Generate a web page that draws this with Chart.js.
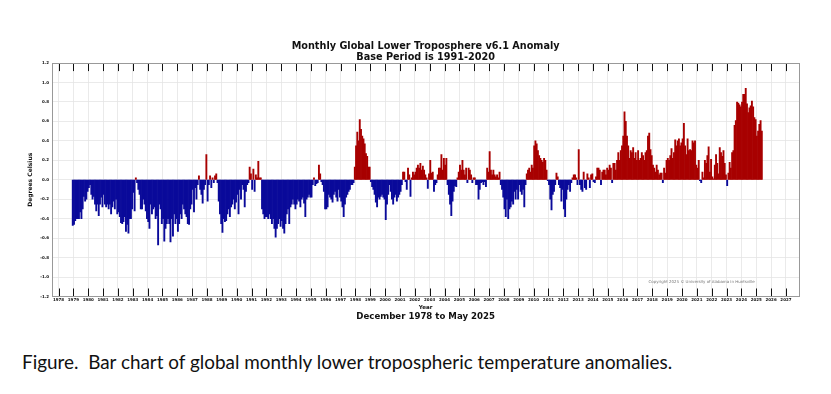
<!DOCTYPE html>
<html>
<head>
<meta charset="utf-8">
<script src="https://cdn.jsdelivr.net/npm/chart.js@4.4.0/dist/chart.umd.min.js"></script>
<style>
  html, body { margin: 0; padding: 0; background: #fff; }
  #wrap { position: relative; width: 831px; height: 394px; overflow: hidden; background: #fff; }
  #chart { position: absolute; left: 0; top: 0; }
  #caption { position: absolute; left: 22px; top: 351px; font-family: Lato, 'Open Sans', sans-serif; font-size: 18.9px; line-height: 22px; color: #111; white-space: pre; }
</style>
</head>
<body>
<div id="wrap">
  <canvas id="chart" width="831" height="330"></canvas>
  <div id="caption">Figure.  Bar chart of global monthly lower tropospheric temperature anomalies.</div>
</div>
<script>
// first bar is December 1978, one value per month after that
const startYear = 1978;
const startMonth = 12;

// monthly anomalies, deg C
const anomalies = [
  -0.47,
  -0.46, -0.42, -0.40, -0.40, -0.40, -0.33, -0.40, -0.30, -0.17, -0.22, -0.20, -0.12, // 1979
  -0.08, -0.05, -0.15, -0.20, -0.17, -0.25, -0.32, -0.25, -0.37, -0.25, -0.18, -0.28, // 1980
  -0.15, -0.25, -0.28, -0.25, -0.30, -0.25, -0.35, -0.28, -0.22, -0.30, -0.20, -0.35, // 1981
  -0.33, -0.38, -0.44, -0.45, -0.43, -0.38, -0.53, -0.46, -0.55, -0.40, -0.40, -0.30, // 1982
  -0.13, -0.32, 0.02, -0.03, -0.10, -0.15, -0.30, -0.30, -0.20, -0.25, -0.32, -0.40,  // 1983
  -0.43, -0.50, -0.25, -0.35, -0.30, -0.28, -0.40, -0.37, -0.67, -0.25, -0.30, -0.45, // 1984
  -0.40, -0.63, -0.50, -0.45, -0.40, -0.45, -0.64, -0.40, -0.58, -0.35, -0.45, -0.40, // 1985
  -0.53, -0.45, -0.35, -0.40, -0.25, -0.30, -0.35, -0.38, -0.45, -0.46, -0.30, -0.25, // 1986
  -0.10, -0.33, -0.08, -0.20, -0.05, 0.04, -0.10, -0.15, -0.24, -0.10, -0.05, 0.26,   // 1987
  -0.22, -0.05, 0.04, -0.08, 0.02, -0.03, 0.04, 0.06, -0.03, -0.22, -0.35, -0.45,     // 1988
  -0.54, -0.40, -0.43, -0.42, -0.35, -0.30, -0.38, -0.28, -0.25, -0.20, -0.30, -0.23, // 1989
  -0.15, -0.35, -0.10, -0.20, -0.05, -0.10, -0.28, -0.12, -0.05, -0.03, 0.13, 0.06,   // 1990
  -0.10, 0.11, -0.12, 0.05, 0.02, 0.19, 0.02, 0.02, -0.30, -0.35, -0.40, -0.38,       // 1991
  -0.38, -0.40, -0.35, -0.40, -0.45, -0.40, -0.50, -0.59, -0.50, -0.45, -0.40, -0.48, // 1992
  -0.42, -0.50, -0.55, -0.45, -0.35, -0.30, -0.45, -0.28, -0.25, -0.20, -0.25, -0.30, // 1993
  -0.25, -0.20, -0.22, -0.28, -0.20, -0.18, -0.24, -0.38, -0.20, -0.18, -0.15, -0.18, // 1994
  -0.18, -0.05, 0.02, -0.06, -0.04, -0.03, 0.15, 0.06, -0.02, -0.05, -0.12, -0.30,    // 1995
  -0.30, -0.28, -0.15, -0.18, -0.20, -0.23, -0.15, -0.12, -0.18, -0.22, -0.10, -0.18, // 1996
  -0.22, -0.28, -0.38, -0.25, -0.18, -0.15, -0.12, -0.10, -0.05, -0.05, -0.03, 0.13,  // 1997
  0.35, 0.49, 0.40, 0.62, 0.52, 0.45, 0.42, 0.37, 0.27, 0.24, 0.13, 0.13,             // 1998
  -0.02, -0.07, -0.10, -0.15, -0.23, -0.28, -0.18, -0.20, -0.17, -0.15, -0.18, -0.20, // 1999
  -0.41, -0.25, -0.15, -0.05, -0.12, -0.20, -0.25, -0.18, -0.15, -0.22, -0.18, -0.15, // 2000
  -0.12, -0.05, 0.08, 0.08, -0.02, -0.10, 0.12, 0.05, -0.17, 0.02, 0.08, 0.05,        // 2001
  0.08, 0.12, 0.15, 0.12, 0.17, 0.10, 0.14, 0.10, 0.05, 0.02, -0.09, 0.06,            // 2002
  0.20, 0.07, 0.08, -0.12, -0.05, -0.03, 0.05, 0.12, 0.12, 0.26, 0.10, 0.22,          // 2003
  0.15, 0.22, -0.05, -0.15, -0.25, -0.37, -0.22, -0.12, -0.06, -0.07, 0.02, 0.08,     // 2004
  0.15, 0.10, 0.20, 0.10, 0.05, 0.12, -0.03, 0.12, 0.10, 0.05, -0.03, 0.02,           // 2005
  0.02, -0.05, -0.05, -0.20, -0.10, -0.03, -0.02, -0.05, -0.02, -0.07, 0.12, 0.08,    // 2006
  0.29, 0.10, 0.05, 0.10, 0.05, 0.03, 0.05, 0.02, 0.08, -0.05, -0.10, -0.18,          // 2007
  -0.30, -0.38, -0.20, -0.40, -0.30, -0.28, -0.22, -0.25, -0.12, -0.20, -0.10, -0.20, // 2008
  -0.05, -0.12, -0.15, -0.10, -0.28, -0.05, 0.06, 0.10, 0.12, 0.08, 0.15, 0.12,       // 2009
  0.35, 0.40, 0.37, 0.30, 0.25, 0.22, 0.20, 0.18, 0.22, 0.20, 0.10, -0.01,            // 2010
  -0.05, -0.20, -0.31, -0.15, -0.12, -0.05, 0.07, 0.03, -0.05, -0.08, -0.22, -0.10,   // 2011
  -0.30, -0.38, -0.20, -0.10, -0.05, -0.12, -0.03, 0.02, 0.05, 0.05, 0.02, -0.05,     // 2012
  0.31, -0.05, -0.10, -0.12, 0.08, -0.08, -0.10, 0.06, 0.02, -0.08, 0.05, 0.06,       // 2013
  -0.02, -0.03, 0.03, 0.12, 0.12, 0.10, -0.05, 0.08, 0.10, 0.10, 0.05, 0.12,          // 2014
  0.10, 0.15, 0.12, -0.03, 0.17, 0.17, 0.10, 0.20, 0.28, 0.20, 0.30, 0.35,            // 2015
  0.45, 0.70, 0.60, 0.45, 0.35, 0.22, 0.30, 0.28, 0.33, 0.22, 0.28, 0.20,             // 2016
  0.30, 0.20, 0.22, 0.28, 0.25, 0.20, 0.28, 0.30, 0.45, 0.48, 0.31, 0.25,             // 2017
  0.15, 0.12, 0.08, 0.15, 0.10, 0.05, 0.07, 0.07, -0.03, 0.12, 0.07, 0.20,            // 2018
  0.22, 0.20, 0.25, 0.32, 0.22, 0.28, 0.41, 0.35, 0.40, 0.42, 0.35, 0.38,             // 2019
  0.42, 0.58, 0.35, 0.26, 0.42, 0.30, 0.31, 0.30, 0.40, 0.38, 0.40, 0.15,             // 2020
  0.12, 0.20, -0.01, -0.03, 0.08, 0.02, 0.20, 0.17, 0.25, 0.34, 0.08, 0.21,           // 2021
  0.03, 0.01, 0.15, 0.26, 0.17, 0.06, 0.33, 0.28, 0.24, 0.30, 0.17, 0.05,             // 2022
  -0.06, 0.07, 0.18, 0.12, 0.28, 0.30, 0.56, 0.61, 0.80, 0.79, 0.77, 0.75,            // 2023
  0.80, 0.88, 0.88, 0.94, 0.78, 0.69, 0.74, 0.76, 0.81, 0.75, 0.64, 0.62,             // 2024
  0.45, 0.50, 0.57, 0.61, 0.50                                                        // 2025
];

const yearTicks = [];
for (let yr = 1978; yr <= 2027; yr++) yearTicks.push(yr);
const yTicks = [-1.2, -1.0, -0.8, -0.6, -0.4, -0.2, 0.0, 0.2, 0.4, 0.6, 0.8, 1.0, 1.2];

const titleLines = ['Monthly Global Lower Troposphere v6.1 Anomaly', 'Base Period is 1991-2020'];
const periodText = 'December 1978 to May 2025';
const copyrightText = 'Copyright 2025 \u00A9 University of Alabama in Huntsville';

// bar centred in its month
const points = anomalies.map((v, i) => ({
  x: startYear + (startMonth - 1 + i + 0.5) / 12,
  y: v,
}));

const FONT = 'DejaVu Sans';

const framePlugin = {
  id: 'frame',
  afterDraw(chart) {
    const { ctx, chartArea: a, scales } = chart;
    ctx.save();
    // inward tick marks top and bottom
    ctx.strokeStyle = '#111';
    ctx.lineWidth = 1;
    ctx.beginPath();
    yearTicks.forEach((yr) => {
      const px = Math.round(scales.x.getPixelForValue(yr)) + 0.5;
      ctx.moveTo(px, a.top);
      ctx.lineTo(px, a.top + 8);
      ctx.moveTo(px, a.bottom);
      ctx.lineTo(px, a.bottom - 8);
    });
    ctx.stroke();
    // box
    ctx.strokeStyle = '#999';
    ctx.lineWidth = 1;
    ctx.strokeRect(Math.round(a.left) + 0.5, Math.round(a.top) + 0.5, Math.round(a.right - a.left), Math.round(a.bottom - a.top));
    // copyright
    ctx.fillStyle = '#777';
    ctx.font = '3.95px "' + FONT + '"';
    ctx.textBaseline = 'middle';
    ctx.fillText(copyrightText, scales.x.getPixelForValue(2017.75), scales.y.getPixelForValue(-1.055));
    ctx.restore();
  },
};

new Chart(document.getElementById('chart').getContext('2d'), {
  type: 'bar',
  data: {
    datasets: [
      {
        data: points,
        backgroundColor: (c) => (c.raw && c.raw.y >= 0 ? '#a80000' : '#0a0a9a'),
        borderWidth: 0,
        barPercentage: 1,
        categoryPercentage: 1,
      },
    ],
  },
  options: {
    responsive: false,
    animation: false,
    devicePixelRatio: 1,
    layout: { padding: { left: 27, right: 31.7, top: 40.4, bottom: 7.6 } },
    plugins: {
      legend: { display: false },
      tooltip: { enabled: false },
      title: {
        display: true,
        fullSize: false,
        text: titleLines,
        color: '#111',
        font: { family: FONT, weight: 'bold', size: 9.7, lineHeight: 1.17 },
        padding: 0,
      },
      subtitle: {
        display: true,
        fullSize: false,
        position: 'bottom',
        text: periodText,
        color: '#111',
        font: { family: FONT, weight: 'bold', size: 8.6, lineHeight: 1.2 },
        padding: 0,
      },
    },
    scales: {
      x: {
        type: 'linear',
        min: 1977.56,
        max: 2027.9,
        offset: false,
        afterBuildTicks: (s) => {
          s.ticks = yearTicks.map((v) => ({ value: v }));
        },
        afterFit: (s) => {
          s.height = 15.6;
        },
        ticks: {
          autoSkip: false,
          maxRotation: 0,
          minRotation: 0,
          padding: 1.5,
          color: '#111',
          font: { family: FONT, weight: 'bold', size: 4 },
          callback: (v) => String(v),
        },
        grid: { color: '#e4e4e4', lineWidth: 0.8, drawTicks: false, offset: false },
        border: { display: false },
        title: {
          display: true,
          text: 'Year',
          color: '#111',
          font: { family: FONT, weight: 'bold', size: 5.5 },
          padding: { top: 0, bottom: 1.7 },
        },
      },
      y: {
        min: -1.2,
        max: 1.2,
        afterBuildTicks: (s) => {
          s.ticks = yTicks.map((v) => ({ value: v }));
        },
        afterFit: (s) => {
          s.width = 25;
        },
        ticks: {
          padding: 3,
          color: '#111',
          font: { family: FONT, weight: 'bold', size: 4 },
          callback: (v) => v.toFixed(1),
        },
        grid: { color: '#e4e4e4', lineWidth: 0.8, drawTicks: false },
        border: { display: false },
        title: {
          display: true,
          text: 'Degrees Celsius',
          color: '#111',
          font: { family: FONT, weight: 'bold', size: 6 },
          padding: 0,
        },
      },
    },
  },
  plugins: [framePlugin],
});
</script>
</body>
</html>
